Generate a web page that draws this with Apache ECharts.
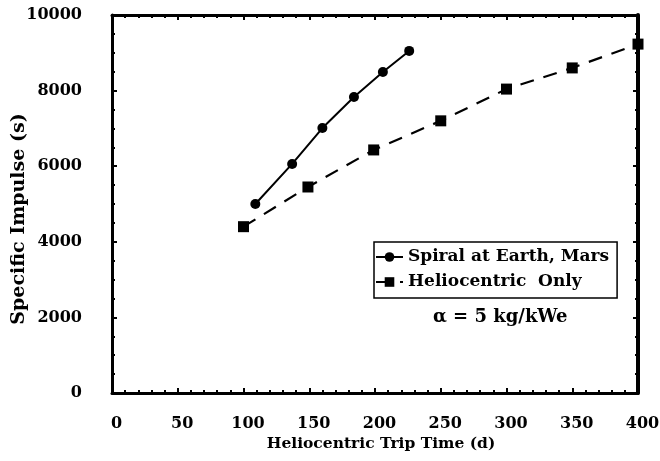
<!DOCTYPE html>
<html><head><meta charset="utf-8">
<script src="https://cdn.jsdelivr.net/npm/echarts@6/dist/echarts.min.js"></script>
<style>html,body{margin:0;padding:0;background:#fff}#c{width:660px;height:461px}</style>
</head><body><div id="c"></div>
<script>
const spiralX = [109, 137, 160, 184, 206, 226];
const spiralY = [5000, 6060, 7010, 7830, 8490, 9050];
const helioX = [100, 149, 199, 250, 300, 350, 400];
const helioY = [4400, 5450, 6430, 7200, 8040, 8600, 9230];
const seriesNames = ['Spiral at Earth, Mars', 'Heliocentric  Only'];
const xTitle = 'Heliocentric Trip Time (d)';
const yTitle = 'Specific Impulse (s)';
const note = 'α = 5 kg/kWe';

const font = 'DejaVu Serif';
const tickFont = {fontFamily: font, fontWeight: 'bold', fontSize: 16, color: '#000'};
const chart = echarts.init(document.getElementById('c'), null, {renderer: 'canvas'});
const axisCommon = {
  type: 'value',
  axisLine: {show: true, onZero: false, lineStyle: {color: '#000', width: 3}},
  axisTick: {show: true, inside: true, length: 5, lineStyle: {color: '#000', width: 2}},
  minorTick: {show: true, splitNumber: 5, length: 3, lineStyle: {color: '#000', width: 2}},
  splitLine: {show: false}
};
chart.setOption({
  animation: false,
  grid: {left: 112, right: 22, top: 15, bottom: 68, outerBoundsMode: 'none', containLabel: false},
  xAxis: [
    Object.assign({}, axisCommon, {min: 0, max: 400, interval: 50, position: 'bottom',
      name: xTitle, nameLocation: 'middle', nameGap: 43, nameMoveOverlap: false,
      nameTextStyle: {fontFamily: font, fontWeight: 'bold', fontSize: 15.5, color: '#000', padding: [0, 0, 0, 12]},
      axisLabel: Object.assign({margin: 23, padding: [0, 0, 0, 9]}, tickFont)}),
    Object.assign({}, axisCommon, {min: 0, max: 400, interval: 50, position: 'top',
      axisLabel: {show: false}})
  ],
  yAxis: [
    Object.assign({}, axisCommon, {min: 0, max: 10000, interval: 2000, position: 'left',
      minorTick: Object.assign({}, axisCommon.minorTick, {splitNumber: 4}),
      name: yTitle, nameLocation: 'middle', nameGap: 83, nameRotate: 90, nameMoveOverlap: false,
      nameTextStyle: {fontFamily: font, fontWeight: 'bold', fontSize: 19, color: '#000', padding: [0, 30, 0, 0]},
      axisLabel: Object.assign({margin: 30, formatter: v => String(v)}, tickFont)}),
    Object.assign({}, axisCommon, {min: 0, max: 10000, interval: 2000, position: 'right',
      axisLine: {show: true, onZero: false, lineStyle: {color: '#000', width: 4}},
      minorTick: Object.assign({}, axisCommon.minorTick, {splitNumber: 4}),
      axisLabel: {show: false}})
  ],
  legend: {
    left: 374, top: 242, orient: 'vertical',
    borderColor: '#000', borderWidth: 1.5, padding: [5, 8, 6, 1],
    itemGap: 5, itemWidth: 27, itemHeight: 12,
    textStyle: {fontFamily: font, fontWeight: 'bold', fontSize: 17, lineHeight: 20, color: '#000'},
    data: seriesNames
  },
  graphic: [{
    type: 'text', left: 433, top: 308,
    style: {text: note, fontFamily: font, fontWeight: 'bold', fontSize: 18, fill: '#000'}
  }],
  series: [
    {name: seriesNames[0], type: 'line', data: spiralX.map((x, i) => [x, spiralY[i]]),
      symbol: 'circle', symbolSize: 10, itemStyle: {color: '#000'},
      lineStyle: {color: '#000', width: 2}},
    {name: seriesNames[1], type: 'line', data: helioX.map((x, i) => [x, helioY[i]]),
      symbol: 'rect', symbolSize: 11, itemStyle: {color: '#000'},
      lineStyle: {color: '#000', width: 2.2, type: [14, 10]}}
  ]
});
</script></body></html>
